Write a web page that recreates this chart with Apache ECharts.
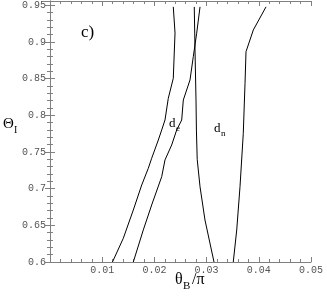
<!DOCTYPE html>
<html>
<head>
<meta charset="utf-8">
<script src="https://cdn.jsdelivr.net/npm/echarts@6/dist/echarts.min.js"></script>
<style>html,body{margin:0;padding:0;background:#fff}#c{width:327px;height:297px}</style>
</head>
<body>
<div id="c"></div>
<script>
// Curve data: [theta_B/pi, Theta_I]
var curveDeLeft = [[0.01197,0.600],[0.01404,0.6323],[0.01596,0.6709],[0.01757,0.7050],[0.01883,0.7278],[0.01948,0.7415],[0.02075,0.7664],[0.02140,0.7801],[0.02203,0.7937],[0.02266,0.8233],[0.02362,0.8506],[0.02395,0.9124],[0.02362,0.948]];
var curveDeRight = [[0.01596,0.600],[0.01787,0.6437],[0.01948,0.6778],[0.02140,0.7164],[0.02203,0.7392],[0.02331,0.7596],[0.02427,0.7801],[0.02523,0.7937],[0.02554,0.8210],[0.02682,0.8483],[0.02745,0.8801],[0.02810,0.9120],[0.02874,0.948]];
var curveDnLeft = [[0.03142,0.600],[0.02969,0.6573],[0.02874,0.7027],[0.02820,0.7400],[0.02805,0.7800],[0.02797,0.8210],[0.02778,0.8892],[0.02764,0.948]];
var curveDnRight = [[0.03511,0.600],[0.03577,0.6437],[0.03640,0.7027],[0.03703,0.7756],[0.03736,0.8438],[0.03755,0.8869],[0.03895,0.9165],[0.04138,0.948]];
var xTicks = [0.01,0.02,0.03,0.04,0.05];
var yTicks = [0.6,0.65,0.7,0.75,0.8,0.85,0.9,0.95];

var chart = echarts.init(document.getElementById('c'), null, {renderer:'canvas'});
var axisCol = '#808080';
var labelStyle = {fontFamily:'Liberation Mono', fontSize:10, color:'#555'};
function fmt(list){ return function(v){ for (var i=0;i<list.length;i++){ if (Math.abs(list[i]-v)<1e-6) return String(list[i]); } return ''; }; }
function lineSeries(d){ return {type:'line', data:d, showSymbol:false, symbol:'none', lineStyle:{color:'#000', width:1}, animation:false, silent:true}; }
var tickCommon = {show:true, inside:true, length:5, lineStyle:{color:axisCol}};
var minorCommon = {show:true, splitNumber:5, length:3, lineStyle:{color:axisCol}};
chart.setOption({
  animation:false,
  grid:{left:50, right:16, top:1, bottom:35, show:false},
  xAxis:[
    {type:'value', min:0, max:0.05, interval:0.01, position:'bottom',
     axisLine:{show:true, lineStyle:{color:axisCol}}, axisTick:tickCommon, minorTick:minorCommon,
     splitLine:{show:false}, axisLabel:Object.assign({margin:3, formatter:fmt(xTicks)}, labelStyle)},
    {type:'value', min:0, max:0.05, interval:0.01, position:'top',
     axisLine:{show:true, lineStyle:{color:axisCol}}, axisTick:tickCommon, minorTick:minorCommon,
     splitLine:{show:false}, axisLabel:{show:false}}
  ],
  yAxis:[
    {type:'value', min:0.6, max:0.956, interval:0.05, position:'left',
     axisLine:{show:true, lineStyle:{color:axisCol}}, axisTick:tickCommon, minorTick:minorCommon,
     splitLine:{show:false}, axisLabel:Object.assign({margin:4, formatter:fmt(yTicks), showMaxLabel:false}, labelStyle)},
    {type:'value', min:0.6, max:0.956, interval:0.05, position:'right',
     axisLine:{show:true, lineStyle:{color:axisCol}}, axisTick:tickCommon, minorTick:minorCommon,
     splitLine:{show:false}, axisLabel:{show:false}}
  ],
  series:[lineSeries(curveDeLeft), lineSeries(curveDeRight), lineSeries(curveDnLeft), lineSeries(curveDnRight)],
  graphic:[
    {type:'text', left:81, top:24, style:{text:'c)', font:'17px "Liberation Serif"', fill:'#000'}},
    {type:'text', left:3, top:117, style:{text:'Θ', font:'15px "Liberation Serif"', fill:'#000'}},
    {type:'text', left:14, top:125, style:{text:'I', font:'10px "Liberation Serif"', fill:'#000'}},
    {type:'text', left:175, top:272, style:{text:'θ', font:'16px "Liberation Serif"', fill:'#000'}},
    {type:'text', left:183, top:281, style:{text:'B', font:'11px "Liberation Serif"', fill:'#000'}},
    {type:'text', left:192, top:272, style:{text:'/π', font:'16px "Liberation Serif"', fill:'#000'}},
    {type:'text', left:169, top:117, style:{text:'d', font:'13px "Liberation Serif"', fill:'#000'}},
    {type:'text', left:176, top:124, style:{text:'e', font:'9px "Liberation Serif"', fill:'#000'}},
    {type:'text', left:214, top:122, style:{text:'d', font:'13px "Liberation Serif"', fill:'#000'}},
    {type:'text', left:221, top:129, style:{text:'n', font:'9px "Liberation Serif"', fill:'#000'}}
  ]
});
</script>
</body>
</html>
